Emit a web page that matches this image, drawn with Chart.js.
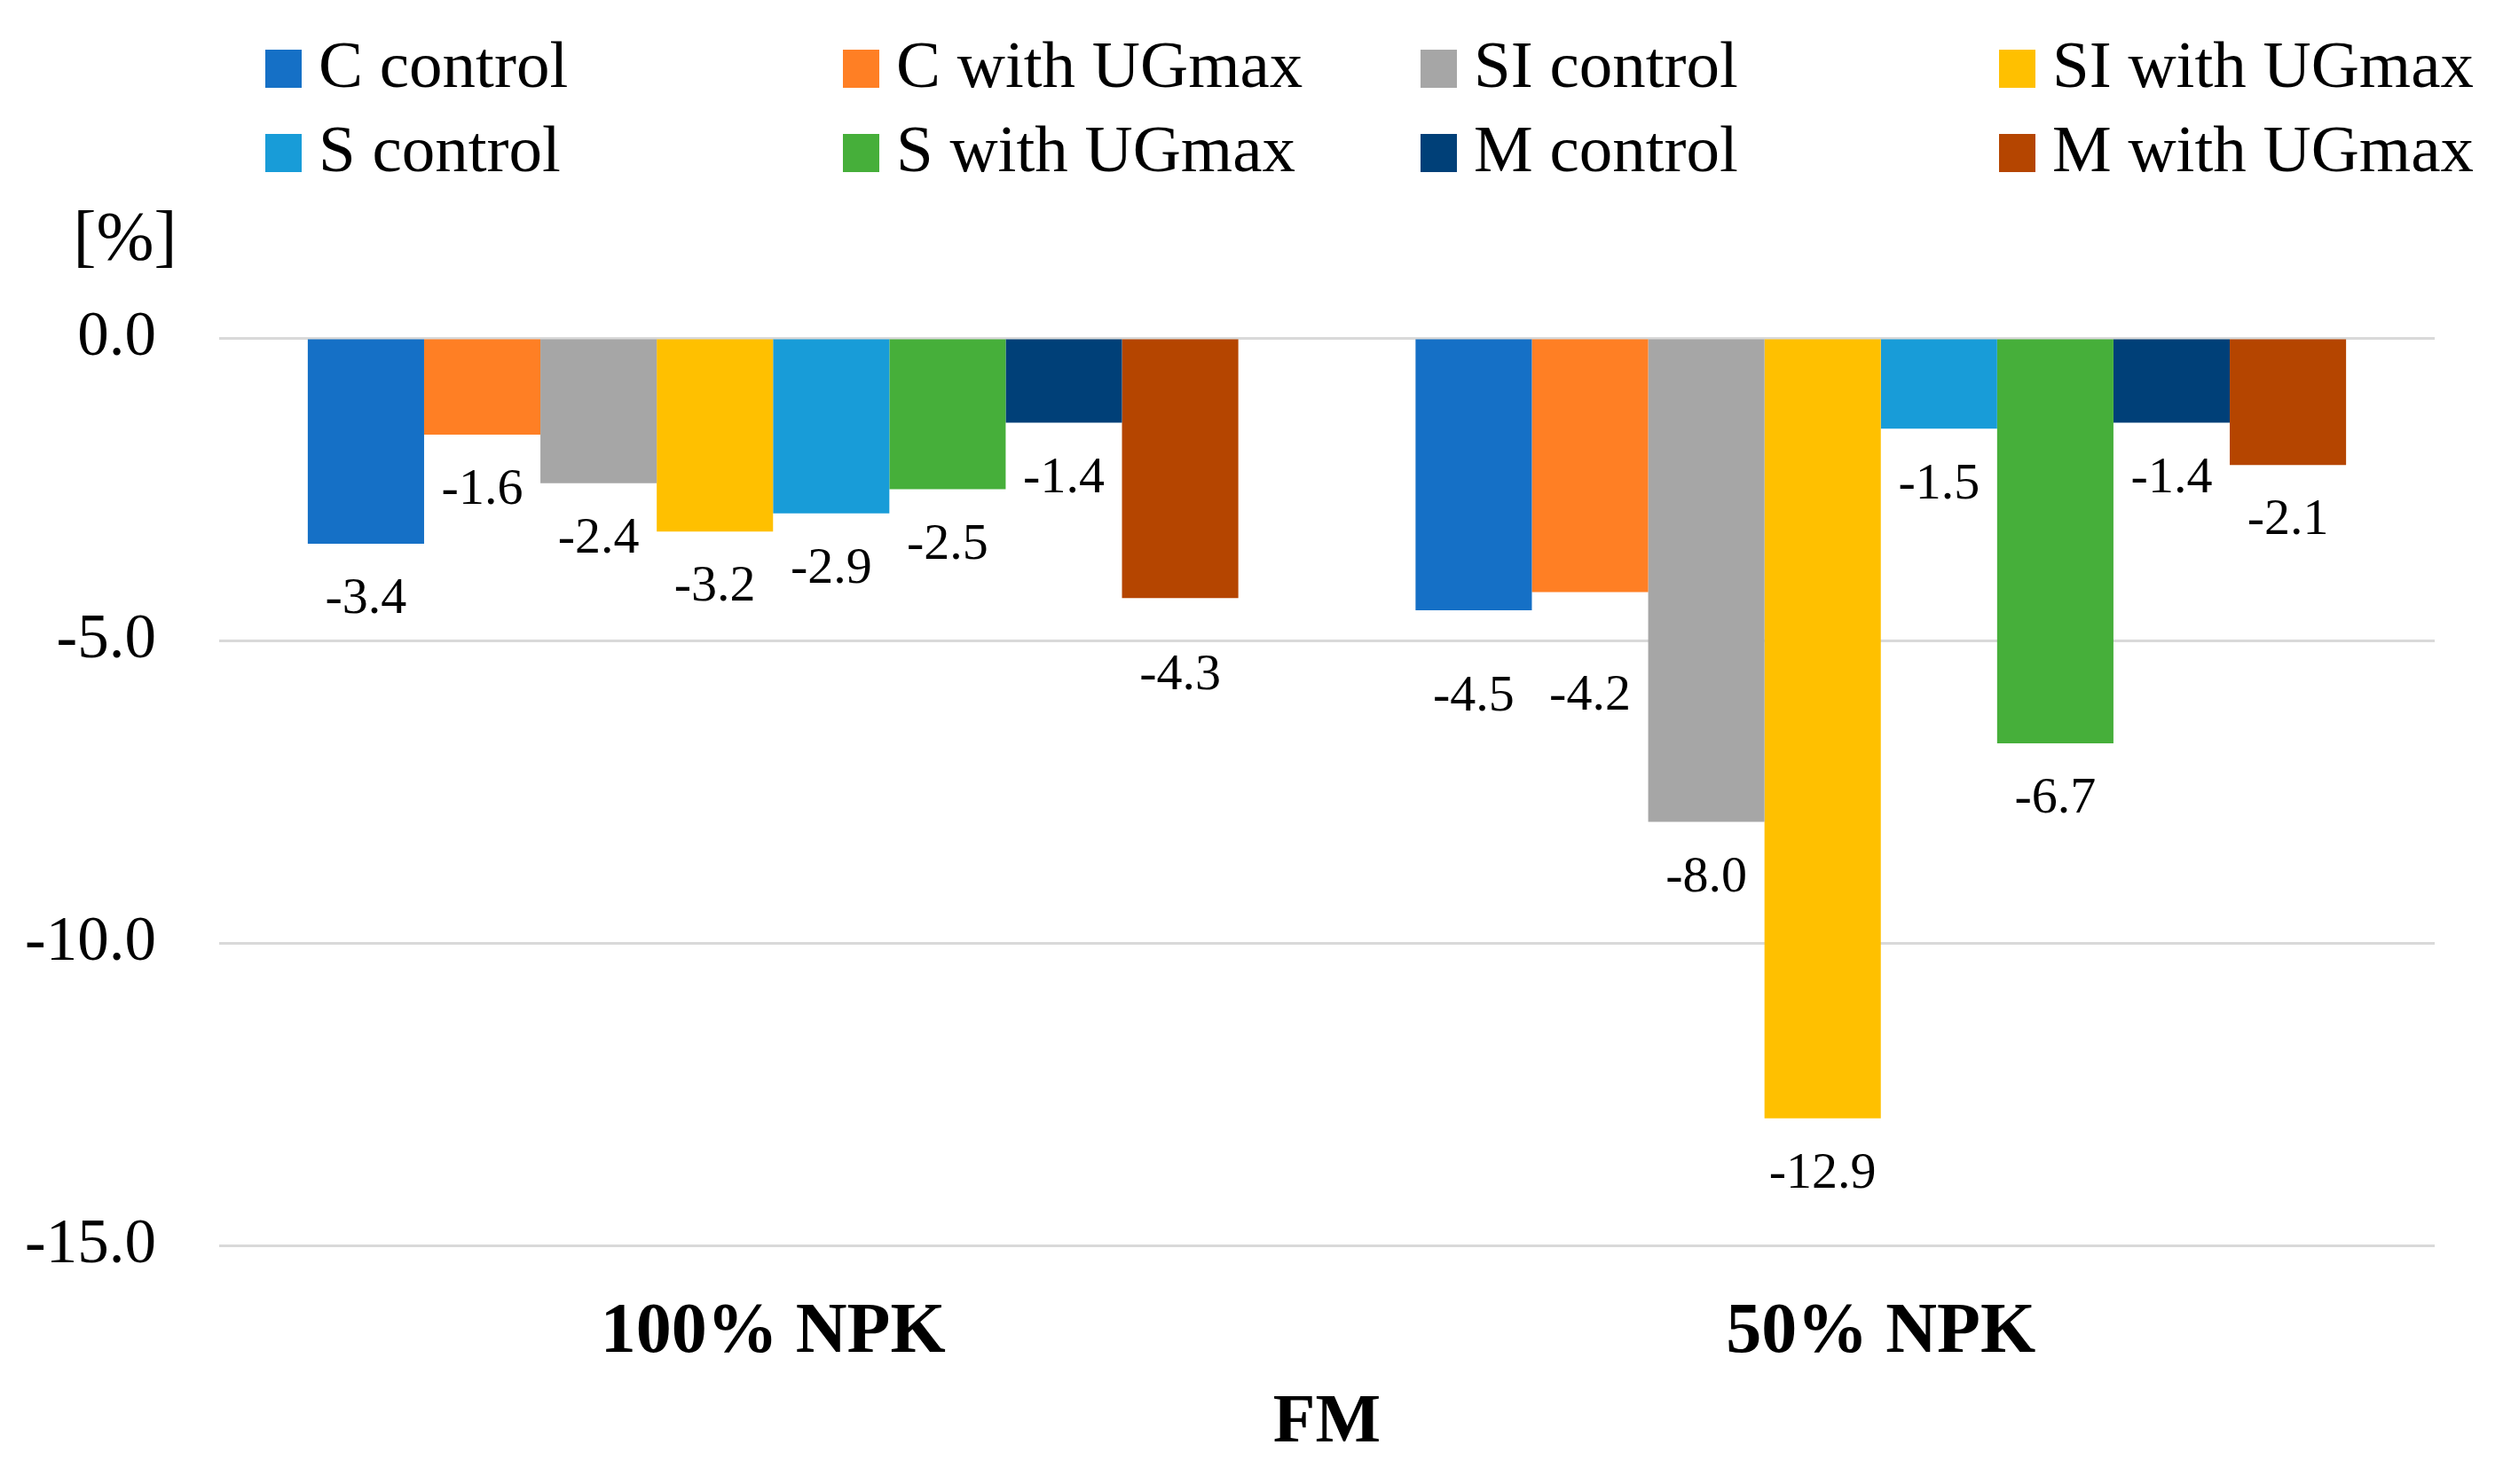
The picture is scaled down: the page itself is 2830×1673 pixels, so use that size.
<!DOCTYPE html>
<html>
<head>
<meta charset="utf-8">
<script src="https://cdn.jsdelivr.net/npm/chart.js@4"></script>
<style>
  html, body { margin: 0; padding: 0; background: #ffffff; }
  canvas { display: block; }
</style>
</head>
<body>
<canvas id="c" width="2830" height="1673"></canvas>
<script>
const categories = ["100% NPK", "50% NPK"];
const seriesNames = ["C control", "C with UGmax", "SI control", "SI with UGmax",
                     "S control", "S with UGmax", "M control", "M with UGmax"];
const cControl   = [-3.4, -4.5];
const cUGmax     = [-1.6, -4.2];
const siControl  = [-2.4, -8.0];
const siUGmax    = [-3.2, -12.9];
const sControl   = [-2.9, -1.5];
const sUGmax     = [-2.5, -6.7];
const mControl   = [-1.4, -1.4];
const mUGmax     = [-4.3, -2.1];
const yTicks     = [0, -5, -10, -15];
const seriesValues = [cControl, cUGmax, siControl, siUGmax, sControl, sUGmax, mControl, mUGmax];
const colors = ["#1570C6", "#FF7F24", "#A6A6A6", "#FFC000", "#189CD8", "#46AF3A", "#004078", "#B54500"];

const FONT = "'Liberation Serif', 'Times New Roman', serif";

// label offsets below the bar end (pixels); a few labels were moved manually in the original
const defaultLabelOffset = 63;
const labelOffsetOverrides = { "7-0": 88, "0-1": 98, "1-1": 117 };

const datasets = seriesNames.map((name, i) => ({
  label: name,
  data: seriesValues[i],
  backgroundColor: colors[i],
  borderWidth: 0,
  categoryPercentage: 0.84,
  barPercentage: 1.0
}));

const labelPlugin = {
  id: 'valueLabels',
  afterDatasetsDraw(chart) {
    const ctx = chart.ctx;
    ctx.save();
    ctx.font = "58px " + FONT;
    ctx.fillStyle = "#000000";
    ctx.textAlign = "center";
    ctx.textBaseline = "middle";
    chart.data.datasets.forEach((ds, di) => {
      const meta = chart.getDatasetMeta(di);
      meta.data.forEach((el, j) => {
        const v = ds.data[j];
        const key = di + "-" + j;
        const off = (key in labelOffsetOverrides) ? labelOffsetOverrides[key] : defaultLabelOffset;
        ctx.fillText(v.toFixed(1), el.x, el.y + off);
      });
    });
    ctx.restore();
  }
};

const legendPlugin = {
  id: 'gridLegend',
  afterDraw(chart) {
    const ctx = chart.ctx;
    const colX = [299, 950, 1601, 2253];
    const rowY = [77, 172];
    ctx.save();
    ctx.font = "75px " + FONT;
    ctx.textAlign = "left";
    ctx.textBaseline = "middle";
    chart.data.datasets.forEach((ds, i) => {
      const col = i % 4, row = Math.floor(i / 4);
      const x = colX[col], y = rowY[row];
      ctx.fillStyle = ds.backgroundColor;
      ctx.fillRect(x, y - 21, 41, 43);
      ctx.fillStyle = "#000000";
      ctx.fillText(ds.label, x + 60, y + 1);
    });
    // unit label
    ctx.font = "78px " + FONT;
    ctx.textAlign = "center";
    ctx.fillText("[%]", 141, 272);
    ctx.restore();
  }
};

new Chart(document.getElementById('c'), {
  type: 'bar',
  data: { labels: categories, datasets: datasets },
  options: {
    responsive: false,
    devicePixelRatio: 1,
    animation: false,
    layout: { padding: { top: 381, right: 86, left: 0, bottom: 0 } },
    plugins: {
      legend: { display: false },
      tooltip: { enabled: false },
      title: { display: false }
    },
    scales: {
      x: {
        grid: { display: false },
        border: { display: false },
        ticks: {
          color: "#000000",
          font: { family: FONT, size: 80, weight: 'bold', lineHeight: 1.2 },
          padding: 43,
          maxRotation: 0
        },
        title: {
          display: true,
          text: "FM",
          color: "#000000",
          font: { family: FONT, size: 78, weight: 'bold', lineHeight: 1.2 },
          padding: { top: 4, bottom: 21 }
        },
        afterFit(scale) { scale.height = 269; }
      },
      y: {
        min: -15,
        max: 0,
        afterBuildTicks(scale) { scale.ticks = yTicks.map(v => ({ value: v })); },
        grid: { color: "#D9D9D9", lineWidth: 3, drawTicks: false },
        border: { display: false },
        ticks: {
          color: "#000000",
          font: { family: FONT, size: 71 },
          padding: 71,
          callback: v => Number(v).toFixed(1)
        },
        afterFit(scale) { scale.width = 247; }
      }
    }
  },
  plugins: [labelPlugin, legendPlugin]
});
</script>
</body>
</html>
